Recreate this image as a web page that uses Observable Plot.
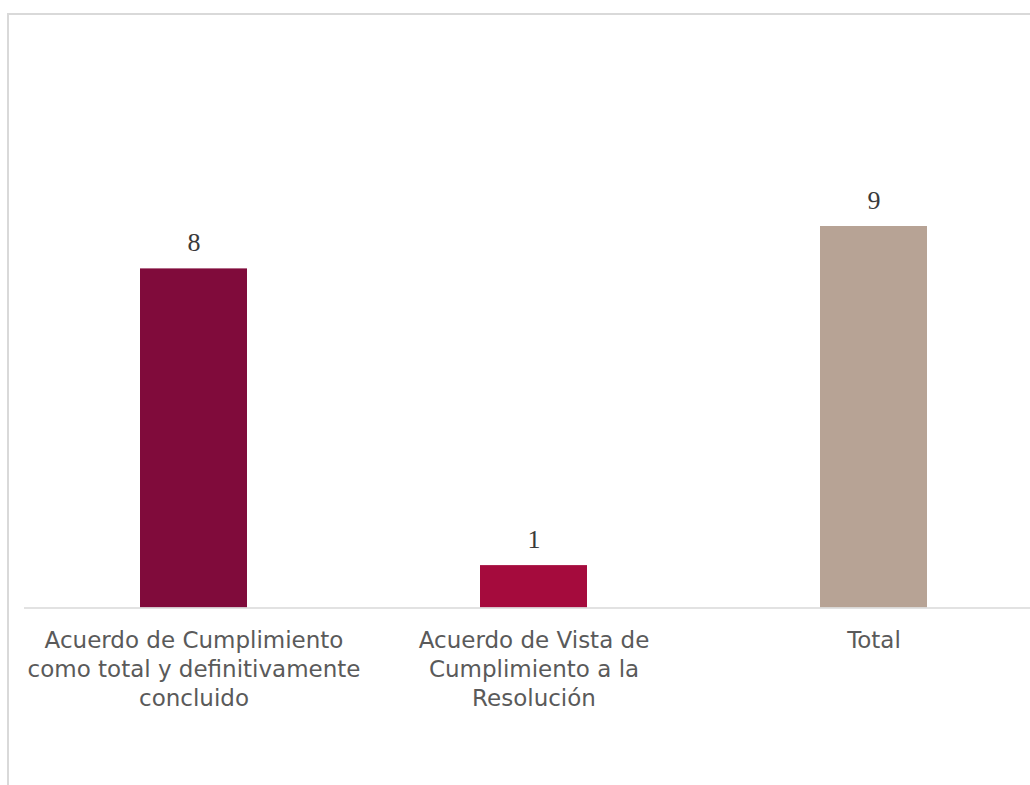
<!DOCTYPE html>
<html>
<head>
<meta charset="utf-8">
<script src="https://cdn.jsdelivr.net/npm/d3@7"></script>
<script src="https://cdn.jsdelivr.net/npm/@observablehq/plot@0.6"></script>
<style>
  html, body { margin: 0; padding: 0; background: #fff; }
  #wrap { position: relative; width: 1030px; height: 785px; overflow: hidden; }
  #frame { position: absolute; left: 7px; top: 13px; width: 1100px; height: 800px;
           border-top: 2px solid #d9d9d9; border-left: 2px solid #d9d9d9; box-sizing: border-box; }
  #chart { position: absolute; left: 0; top: 0; }
</style>
</head>
<body>
<div id="wrap"><div id="frame"></div><div id="chart"></div></div>
<script>
const categories = [
  "Acuerdo de Cumplimiento como total y definitivamente concluido",
  "Acuerdo de Vista de Cumplimiento a la Resolución",
  "Total"
];
const tickLabels = [
  "Acuerdo de Cumplimiento\ncomo total y definitivamente\nconcluido",
  "Acuerdo de Vista de\nCumplimiento a la\nResolución",
  "Total"
];
const values = [8, 1, 9];
const barColors = ["#800B3B", "#A50B3D", "#B7A395"];

const data = categories.map((c, i) => ({cat: c, value: values[i], color: barColors[i]}));

const chart = Plot.plot({
  width: 1030,
  height: 785,
  marginLeft: 24,
  marginRight: 0,
  marginTop: 226,
  marginBottom: 177.5,
  style: {background: "transparent", color: "#595959", fontFamily: "'DejaVu Sans', sans-serif"},
  x: {domain: categories, range: [24, 1044], paddingInner: 0.685, paddingOuter: 0.3425, label: null},
  y: {domain: [0, 9], axis: null},
  marks: [
    Plot.barY(data, {x: "cat", y: "value", fill: "color"}),
    Plot.ruleY([0], {stroke: "#d9d9d9", strokeWidth: 1.5}),
    Plot.text(data, {x: "cat", y: "value", text: d => String(d.value), lineAnchor: "bottom", dy: -18,
      fontSize: 26, fontFamily: "'Liberation Serif', serif", fill: "#3a3a3a"}),
    Plot.axisX({tickSize: 0, tickPadding: 19, fontSize: 23, lineHeight: 1.26, label: null,
      tickFormat: d => tickLabels[categories.indexOf(d)], fill: "#5a5a5a"})
  ]
});
document.getElementById("chart").appendChild(chart);
</script>
</body>
</html>
